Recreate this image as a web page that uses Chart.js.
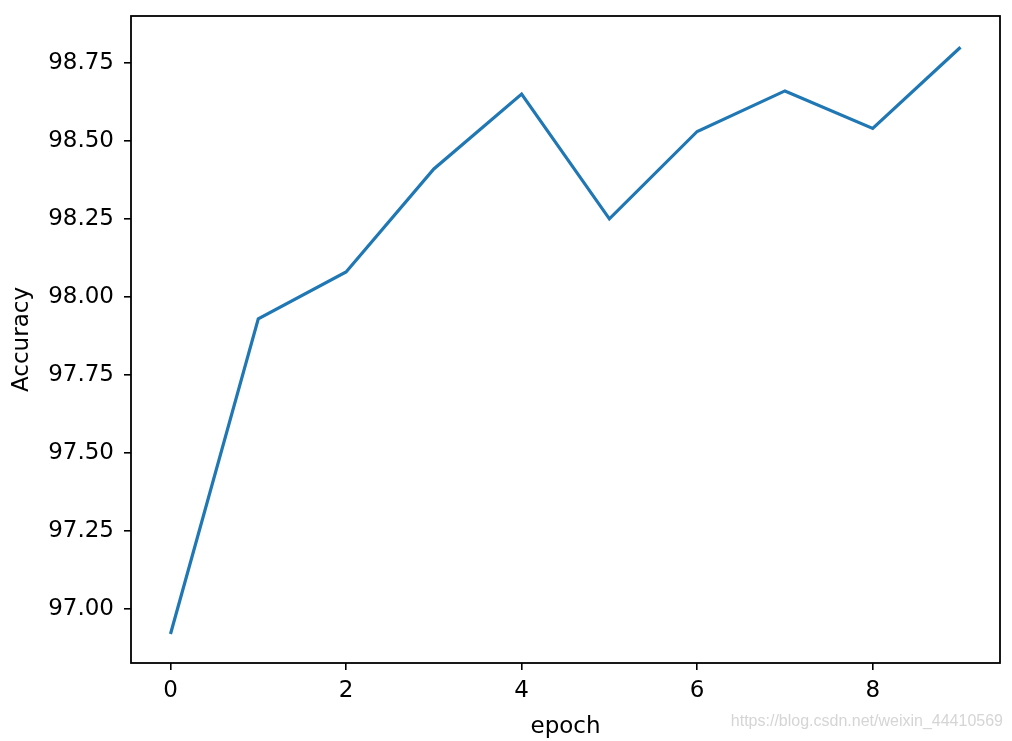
<!DOCTYPE html>
<html>
<head>
<meta charset="utf-8">
<script src="https://cdn.jsdelivr.net/npm/chart.js@4.4.0/dist/chart.umd.min.js"></script>
<style>
  html, body { margin: 0; padding: 0; background: #fff; }
  #wrap { width: 1012px; height: 741px; position: relative; }
</style>
</head>
<body>
<div id="wrap"><canvas id="accChart"></canvas></div>
<script>
// datos
const epochs = [0, 1, 2, 3, 4, 5, 6, 7, 8, 9];
const accuracy = [96.92, 97.93, 98.08, 98.41, 98.65, 98.25, 98.53, 98.66, 98.54, 98.80];
const xTicks = [0, 2, 4, 6, 8];
const yTicks = [97.00, 97.25, 97.50, 97.75, 98.00, 98.25, 98.50, 98.75];
const watermark = 'https://blog.csdn.net/weixin_44410569';

const FONT = 'DejaVu Sans';

// marco completo del área de datos + marca de agua
const framePlugin = {
    id: 'frame',
    afterDraw(chart) {
        const { ctx, chartArea: a } = chart;
        ctx.save();
        ctx.strokeStyle = '#000';
        ctx.lineWidth = 1.8;
        ctx.strokeRect(a.left, a.top, a.right - a.left, a.bottom - a.top);
        ctx.fillStyle = 'rgba(208,208,208,0.9)';
        ctx.font = '16px "Liberation Sans", Arial, sans-serif';
        ctx.textAlign = 'right';
        ctx.textBaseline = 'middle';
        ctx.fillText(watermark, 1003, 722);
        ctx.restore();
    }
};

// quitar el relleno automático que Chart.js añade por las etiquetas
const noPad = s => { s.paddingTop = 0; s.paddingBottom = 0; s.paddingLeft = 0; s.paddingRight = 0; };

const ctx = document.getElementById('accChart').getContext('2d');
const chart = new Chart(ctx, {
    type: 'line',
    data: {
        datasets: [{
            label: 'Accuracy',
            data: epochs.map((e, i) => ({ x: e, y: accuracy[i] })),
            borderColor: '#1f77b4',
            borderWidth: 3.2,
            pointRadius: 0,
            tension: 0,
            fill: false
        }]
    },
    options: {
        responsive: true,
        maintainAspectRatio: false,
        animation: false,
        layout: { padding: { top: 16, right: 12, left: 0, bottom: 0 } },
        plugins: {
            legend: { display: false },
            tooltip: { enabled: false }
        },
        scales: {
            x: {
                type: 'linear',
                min: -0.45,
                max: 9.45,
                afterBuildTicks: s => { s.ticks = xTicks.map(v => ({ value: v })); },
                afterFit: s => { s.height = 78; noPad(s); },
                ticks: {
                    color: '#000',
                    font: { family: FONT, size: 23 },
                    padding: 7,
                    maxRotation: 0,
                    callback: v => String(v)
                },
                grid: {
                    drawOnChartArea: false,
                    drawTicks: true,
                    tickLength: 7,
                    tickColor: '#000',
                    lineWidth: 1.6
                },
                border: { display: false },
                title: {
                    display: true,
                    text: 'epoch',
                    color: '#000',
                    font: { family: FONT, size: 23 },
                    padding: { top: 2, bottom: 0 }
                }
            },
            y: {
                type: 'linear',
                min: 96.827,
                max: 98.90,
                afterBuildTicks: s => { s.ticks = yTicks.map(v => ({ value: v })); },
                afterFit: s => { s.width = 131; noPad(s); },
                ticks: {
                    color: '#000',
                    font: { family: FONT, size: 23 },
                    padding: 10,
                    callback: v => Number(v).toFixed(2)
                },
                grid: {
                    drawOnChartArea: false,
                    drawTicks: true,
                    tickLength: 7,
                    tickColor: '#000',
                    lineWidth: 1.6
                },
                border: { display: false },
                title: {
                    display: true,
                    text: 'Accuracy',
                    color: '#000',
                    font: { family: FONT, size: 23 },
                    padding: { top: 8, bottom: 2 }
                }
            }
        }
    },
    plugins: [framePlugin]
});
</script>
</body>
</html>
